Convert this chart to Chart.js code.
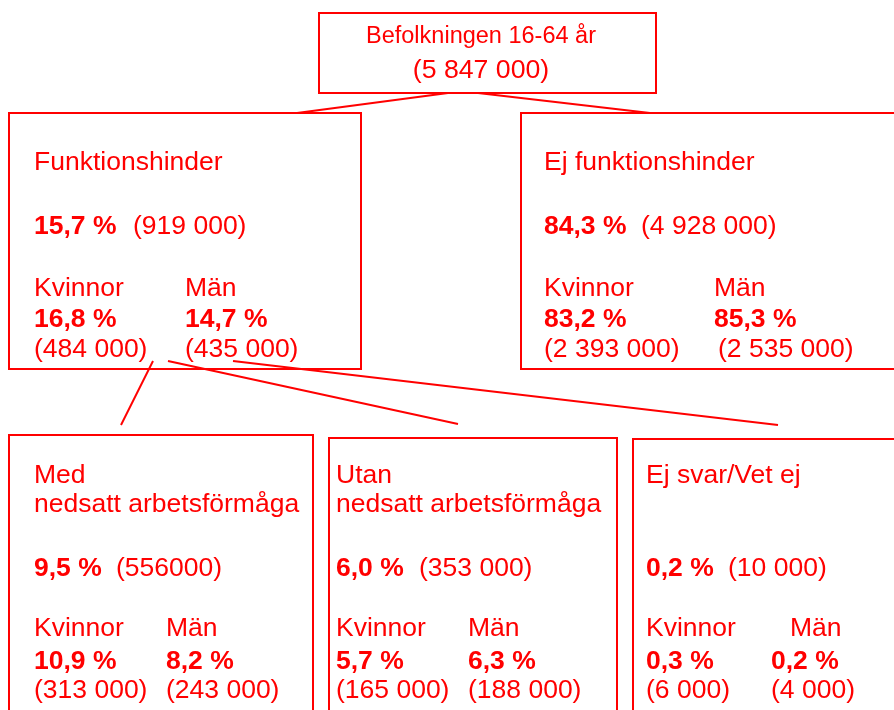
<!DOCTYPE html>
<html>
<head>
<meta charset="utf-8">
<script src="https://cdn.jsdelivr.net/npm/chart.js@4/dist/chart.umd.min.js"></script>
<style>
    html, body { margin: 0; padding: 0; background: #fff; }
    canvas { display: block; }
</style>
</head>
<body>
<canvas id="treeChart" width="894" height="710"></canvas>
<script>
// Root of the tree
const rootLabel = 'Befolkningen 16-64 år';
const rootCount = '5 847 000';

// Groups: two under the root, three under "Funktionshinder"
const groupNames = [
    ['Funktionshinder'],
    ['Ej funktionshinder'],
    ['Med', 'nedsatt arbetsförmåga'],
    ['Utan', 'nedsatt arbetsförmåga'],
    ['Ej svar/Vet ej']
];
const groupShare = [15.7, 84.3, 9.5, 6.0, 0.2];
const groupCount = ['919 000', '4 928 000', '556000', '353 000', '10 000'];
const sexLabels = ['Kvinnor', 'Män'];
const womenShare = [16.8, 83.2, 10.9, 5.7, 0.3];
const womenCount = ['484 000', '2 393 000', '313 000', '165 000', '6 000'];
const menShare = [14.7, 85.3, 8.2, 6.3, 0.2];
const menCount = ['435 000', '2 535 000', '243 000', '188 000', '4 000'];

// Layout (in axis units, 0..894 x 0..710)
const rootLayout = { x1: 319, y1: 13, x2: 656, y2: 93, cx: 481, rows: [43, 78] };
const nodeLayout = [
    { x1: 9, y1: 113, x2: 361, y2: 369, tx: 34, cx: 133, mlx: 185, mx: 185, mcx: 185, rows: [170, 234, 296, 327, 357] },
    { x1: 521, y1: 113, x2: 910, y2: 369, tx: 544, cx: 641, mlx: 714, mx: 714, mcx: 718, rows: [170, 234, 296, 327, 357] },
    { x1: 9, y1: 435, x2: 313, y2: 730, tx: 34, cx: 116, mlx: 166, mx: 166, mcx: 166, rows: [483, 576, 636, 669, 698] },
    { x1: 329, y1: 438, x2: 617, y2: 730, tx: 336, cx: 419, mlx: 468, mx: 468, mcx: 468, rows: [483, 576, 636, 669, 698] },
    { x1: 633, y1: 439, x2: 910, y2: 730, tx: 646, cx: 728, mlx: 790, mx: 771, mcx: 771, rows: [483, 576, 636, 669, 698] }
];
const links = [
    [448, 93, 297, 113], [478, 93, 650, 113],
    [153, 361, 121, 425], [168, 361, 458, 424], [233, 361, 778, 425]
];

const RED = '#ff0000';
const FONT = "'Liberation Sans', Arial, sans-serif";
const SIZE = 26.5;

function pct(v) {
    return v.toFixed(1).replace('.', ',') + ' %';
}

const treePlugin = {
    id: 'tree',
    afterDraw(chart) {
        const { ctx, scales: { x, y } } = chart;
        const px = v => x.getPixelForValue(v);
        const py = v => y.getPixelForValue(v);

        ctx.save();
        ctx.strokeStyle = RED;
        ctx.fillStyle = RED;
        ctx.lineWidth = 2;
        ctx.textBaseline = 'alphabetic';

        function box(b) {
            ctx.strokeRect(px(b.x1), py(b.y1), px(b.x2) - px(b.x1), py(b.y2) - py(b.y1));
        }
        function text(str, tx, ty, bold, size) {
            ctx.font = (bold ? 'bold ' : '') + (size || SIZE) + 'px ' + FONT;
            ctx.fillText(str, px(tx), py(ty));
        }

        // connectors
        links.forEach(([x1, y1, x2, y2]) => {
            ctx.beginPath();
            ctx.moveTo(px(x1), py(y1));
            ctx.lineTo(px(x2), py(y2));
            ctx.stroke();
        });

        // root
        box(rootLayout);
        ctx.textAlign = 'center';
        text(rootLabel, rootLayout.cx, rootLayout.rows[0], false, 23.5);
        text('(' + rootCount + ')', rootLayout.cx, rootLayout.rows[1], false, 26.7);
        ctx.textAlign = 'left';

        // group nodes
        nodeLayout.forEach((b, i) => {
            box(b);
            const r = b.rows;
            groupNames[i].forEach((line, k) => text(line, b.tx, r[0] + k * 29));
            text(pct(groupShare[i]), b.tx, r[1], true);
            text('(' + groupCount[i] + ')', b.cx, r[1]);
            text(sexLabels[0], b.tx, r[2]);
            text(sexLabels[1], b.mlx, r[2]);
            text(pct(womenShare[i]), b.tx, r[3], true);
            text(pct(menShare[i]), b.mx, r[3], true);
            text('(' + womenCount[i] + ')', b.tx, r[4]);
            text('(' + menCount[i] + ')', b.mcx, r[4]);
        });
        ctx.restore();
    }
};

new Chart(document.getElementById('treeChart'), {
    type: 'scatter',
    data: { datasets: [] },
    options: {
        responsive: false,
        devicePixelRatio: 1,
        animation: false,
        layout: { padding: 0 },
        plugins: { legend: { display: false }, tooltip: { enabled: false } },
        scales: {
            x: { type: 'linear', min: 0, max: 894, display: false },
            y: { type: 'linear', min: 0, max: 710, reverse: true, display: false }
        }
    },
    plugins: [treePlugin]
});
</script>
</body>
</html>
